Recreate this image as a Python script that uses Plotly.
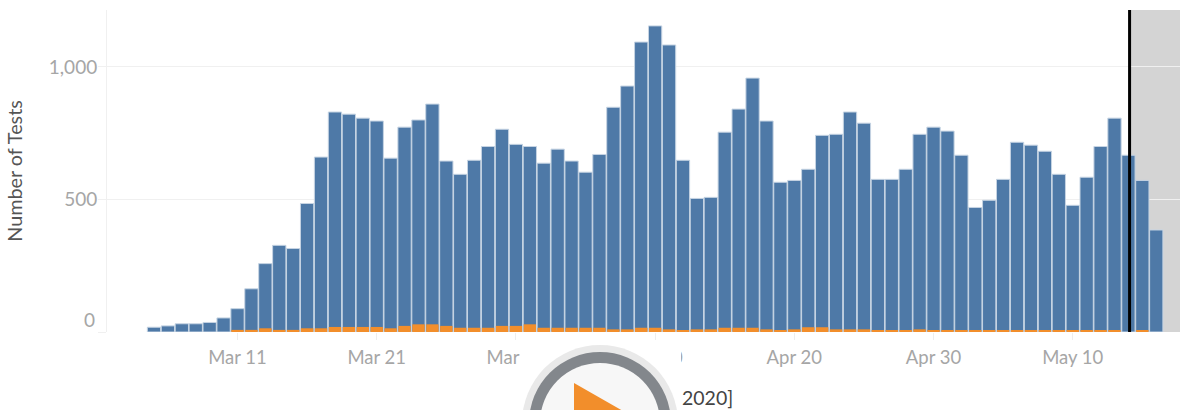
import pandas as pd
import plotly.graph_objects as go

WIDTH, HEIGHT = 1180, 410
M_L, M_R, M_T, M_B = 107, 0, 10, 78

start_day = "2020-03-05"
all_tests = [18, 23, 31, 31, 36, 53, 88, 163, 258, 327, 315, 485, 660, 830, 822, 807, 796, 656, 773, 800,
             860, 645, 595, 648, 700, 765, 708, 700, 637, 690, 645, 603, 670, 848, 928, 1094, 1155, 1083,
             648, 504, 508, 754, 841, 958, 796, 565, 572, 614, 742, 746, 830, 788, 576, 576, 614, 746, 773,
             758, 667, 470, 497, 576, 716, 705, 682, 595, 478, 584, 700, 807, 667, 572, 385]
positive_tests = [0, 0, 0, 0, 0, 0, 8, 8, 14, 8, 8, 14, 14, 19, 19, 19, 19, 14, 23, 29,
                  29, 23, 16, 16, 16, 23, 23, 29, 16, 16, 16, 16, 16, 10, 10, 16, 16, 10,
                  5, 10, 10, 16, 16, 16, 10, 5, 10, 18, 18, 10, 10, 10, 5, 5, 5, 10, 5,
                  5, 5, 5, 5, 5, 5, 5, 5, 5, 5, 5, 5, 5, 0, 5, 0]
tick_days = ["2020-03-11", "2020-03-21", "2020-03-31", "2020-04-10", "2020-04-20", "2020-04-30", "2020-05-10"]
tick_labels = ["Mar 11", "Mar 21", "Mar 31", "Apr 10", "Apr 20", "Apr 30", "May 10"]
value_ticks = [0, 500, 1000]
value_labels = ["", "500", "1,000"]
today = "2020-05-14 02:00"
x_range = ["2020-03-01 15:00", "2020-05-17 16:56"]

days = [d.strftime("%Y-%m-%d") for d in pd.date_range(start_day, periods=len(all_tests))]
DAY_MS = 86400000


def px(x):
    return (x - M_L) / (WIDTH - M_L - M_R)


def py(y):
    return 1 - (y - M_T) / (HEIGHT - M_T - M_B)


def circle(r, color):
    cx, cy = 600, 423
    return dict(type="circle", xref="paper", yref="paper", x0=px(cx - r), x1=px(cx + r),
                y0=py(cy + r), y1=py(cy - r), fillcolor=color, line_width=0, layer="above")


fig = go.Figure()
fig.add_bar(x=days, y=all_tests, name="All tests", width=0.955 * DAY_MS,
            marker=dict(color="#4e79a7", line=dict(color="#c6d4e3", width=1)))
fig.add_bar(x=days, y=positive_tests, name="Positive tests", width=0.89 * DAY_MS,
            marker=dict(color="#f28e2b", line_width=0))

shapes = [
    dict(type="rect", xref="x", yref="paper", x0=today, x1=x_range[1], y0=0, y1=1,
         fillcolor="#d4d4d4", line_width=0, layer="below"),
    dict(type="line", xref="x", yref="paper", x0=today, x1=today, y0=0, y1=1,
         line=dict(color="#000000", width=3), layer="above"),
    dict(type="rect", xref="paper", yref="paper", x0=px(522), x1=px(681), y0=py(410), y1=py(342),
         fillcolor="#ffffff", line_width=0, layer="above"),
    circle(78, "#e9e9e9"),
    circle(71, "#83878c"),
    circle(60, "#f7f7f7"),
    dict(type="path", xref="paper", yref="paper", fillcolor="#f28e2b", line_width=0, layer="above",
         path=f"M {px(574)} {py(383)} L {px(644)} {py(423)} L {px(574)} {py(463)} Z"),
]

fig.update_layout(
    width=WIDTH, height=HEIGHT, margin=dict(l=M_L, r=M_R, t=M_T, b=M_B, autoexpand=False),
    barmode="overlay", showlegend=False, plot_bgcolor="#ffffff", paper_bgcolor="#ffffff",
    font=dict(family="Lato", color="#a6a6a6", size=18.5), shapes=shapes,
    xaxis=dict(type="date", range=x_range, tickmode="array", tickvals=tick_days, ticktext=tick_labels,
               ticks="outside", ticklen=7, tickcolor="#eeeeee", tickwidth=1, showgrid=False, zeroline=False,
               showline=False, ticklabelstandoff=2),
    yaxis=dict(range=[0, 1215], tickmode="array", tickvals=value_ticks, ticktext=value_labels,
               ticks="outside", ticklen=8, tickcolor="#f0f0f0", tickwidth=1, showgrid=True,
               gridcolor="#f0f0f0", gridwidth=1, zeroline=False, showline=True, linecolor="#f0f0f0",
               linewidth=1, ticklabelstandoff=-3, tickfont=dict(size=19),
               title=dict(text="Number of Tests", font=dict(size=19.8, color="#555555"), standoff=20)),
    annotations=[
        dict(text="0", xref="paper", yref="y", x=px(97), y=0, xanchor="right", yanchor="middle", yshift=13,
             showarrow=False, font=dict(size=19, color="#a6a6a6")),
        dict(text="2020]", xref="paper", yref="paper", x=px(680), y=py(397), xanchor="left", yanchor="middle",
             showarrow=False, font=dict(size=19.5, color="#444444")),
    ],
)
fig.write_html("out.html", post_script="document.body.style.margin='0';", config={"displayModeBar": False})
